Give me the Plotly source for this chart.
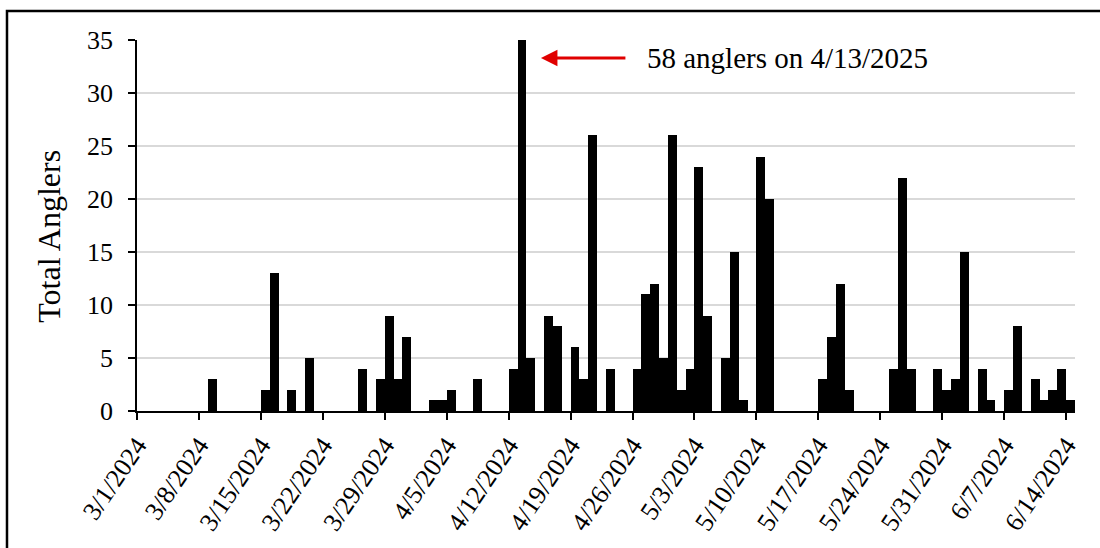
import datetime as dt
import plotly.graph_objects as go

# Daily angler counts (dates with no anglers are omitted)
dates = [
    "2024-03-09", "2024-03-15", "2024-03-16", "2024-03-18", "2024-03-20",
    "2024-03-26", "2024-03-28", "2024-03-29", "2024-03-30", "2024-03-31",
    "2024-04-03", "2024-04-04", "2024-04-05", "2024-04-08", "2024-04-12",
    "2024-04-13", "2024-04-14", "2024-04-16", "2024-04-17", "2024-04-19",
    "2024-04-20", "2024-04-21", "2024-04-23", "2024-04-26", "2024-04-27",
    "2024-04-28", "2024-04-29", "2024-04-30", "2024-05-01", "2024-05-02",
    "2024-05-03", "2024-05-04", "2024-05-06", "2024-05-07", "2024-05-08",
    "2024-05-10", "2024-05-11", "2024-05-17", "2024-05-18", "2024-05-19",
    "2024-05-20", "2024-05-25", "2024-05-26", "2024-05-27", "2024-05-30",
    "2024-05-31", "2024-06-01", "2024-06-02", "2024-06-04", "2024-06-05",
    "2024-06-07", "2024-06-08", "2024-06-10", "2024-06-11", "2024-06-12",
    "2024-06-13", "2024-06-14",
]
anglers = [
    3, 2, 13, 2, 5,
    4, 3, 9, 3, 7,
    1, 1, 2, 3, 4,
    58, 5, 9, 8, 6,
    3, 26, 4, 4, 11,
    12, 5, 26, 2, 4,
    23, 9, 5, 15, 1,
    24, 20, 3, 7, 12,
    2, 4, 22, 4, 4,
    2, 3, 15, 4, 1,
    2, 8, 3, 1, 2,
    4, 1,
]

# Weekly tick labels
tick_dates = [
    "2024-03-01", "2024-03-08", "2024-03-15", "2024-03-22", "2024-03-29",
    "2024-04-05", "2024-04-12", "2024-04-19", "2024-04-26", "2024-05-03",
    "2024-05-10", "2024-05-17", "2024-05-24", "2024-05-31", "2024-06-07",
    "2024-06-14",
]
tick_labels = [
    "3/1/2024", "3/8/2024", "3/15/2024", "3/22/2024", "3/29/2024",
    "4/5/2024", "4/12/2024", "4/19/2024", "4/26/2024", "5/3/2024",
    "5/10/2024", "5/17/2024", "5/24/2024", "5/31/2024", "6/7/2024",
    "6/14/2024",
]

y_title = "Total Anglers"
peak_label = "58 anglers on 4/13/2025"

FONT = "Liberation Serif, Times New Roman, serif"
DAY_MS = 86400000

# each bar fills its whole day: centre it at midday
bar_x = [dt.datetime.fromisoformat(d) + dt.timedelta(hours=12) for d in dates]

fig = go.Figure(
    go.Bar(
        x=bar_x,
        y=anglers,
        width=[DAY_MS] * len(dates),
        marker=dict(color="black", line=dict(width=0)),
        hoverinfo="x+y",
    )
)

fig.update_layout(
    width=1100,
    height=548,
    margin=dict(l=137, r=25, t=40, b=137),
    paper_bgcolor="white",
    plot_bgcolor="white",
    showlegend=False,
    bargap=0,
    font=dict(family=FONT, color="black", size=26),
)

fig.update_xaxes(
    type="date",
    range=["2024-03-01", "2024-06-15"],
    tickvals=tick_dates,
    ticktext=tick_labels,
    tickangle=-56,
    ticks="outside",
    ticklen=7,
    tickwidth=1.5,
    tickcolor="black",
    showline=True,
    linecolor="black",
    linewidth=1.5,
    showgrid=False,
    tickfont=dict(family=FONT, size=26, color="black"),
)

fig.update_yaxes(
    range=[0, 35],
    tickvals=[0, 5, 10, 15, 20, 25, 30, 35],
    ticks="outside",
    ticklen=7,
    tickwidth=1.5,
    tickcolor="black",
    ticklabelstandoff=10,
    showline=True,
    linecolor="black",
    linewidth=1.5,
    showgrid=True,
    gridcolor="#d9d9d9",
    gridwidth=1.5,
    zeroline=False,
    tickfont=dict(family=FONT, size=26, color="black"),
)

# vertical axis title, sitting a little below the plot's mid-height
fig.add_annotation(
    x=-0.094,
    y=0.472,
    xref="paper",
    yref="paper",
    xanchor="center",
    yanchor="middle",
    textangle=-90,
    text=y_title,
    showarrow=False,
    font=dict(family=FONT, size=32, color="black"),
)

# arrow pointing at the off-scale bar
fig.add_annotation(
    x=dt.datetime(2024, 4, 15, 15, 30),
    y=33.3,
    xref="x",
    yref="y",
    text="",
    showarrow=True,
    arrowhead=2,
    arrowsize=1.1,
    arrowwidth=3,
    arrowcolor="#e00000",
    ax=86,
    ay=0,
)
fig.add_annotation(
    x=dt.datetime(2024, 4, 27, 10, 0),
    y=33.3,
    xref="x",
    yref="y",
    xanchor="left",
    yanchor="middle",
    text=peak_label,
    showarrow=False,
    font=dict(family=FONT, size=29, color="black"),
)

# outer frame
fig.add_shape(
    type="rect",
    xref="paper",
    yref="paper",
    x0=-0.1386,
    x1=1.06,
    y0=-0.5,
    y1=1.078,
    line=dict(color="black", width=2.5),
    fillcolor="rgba(0,0,0,0)",
    layer="above",
)

fig.write_html("out.html")
